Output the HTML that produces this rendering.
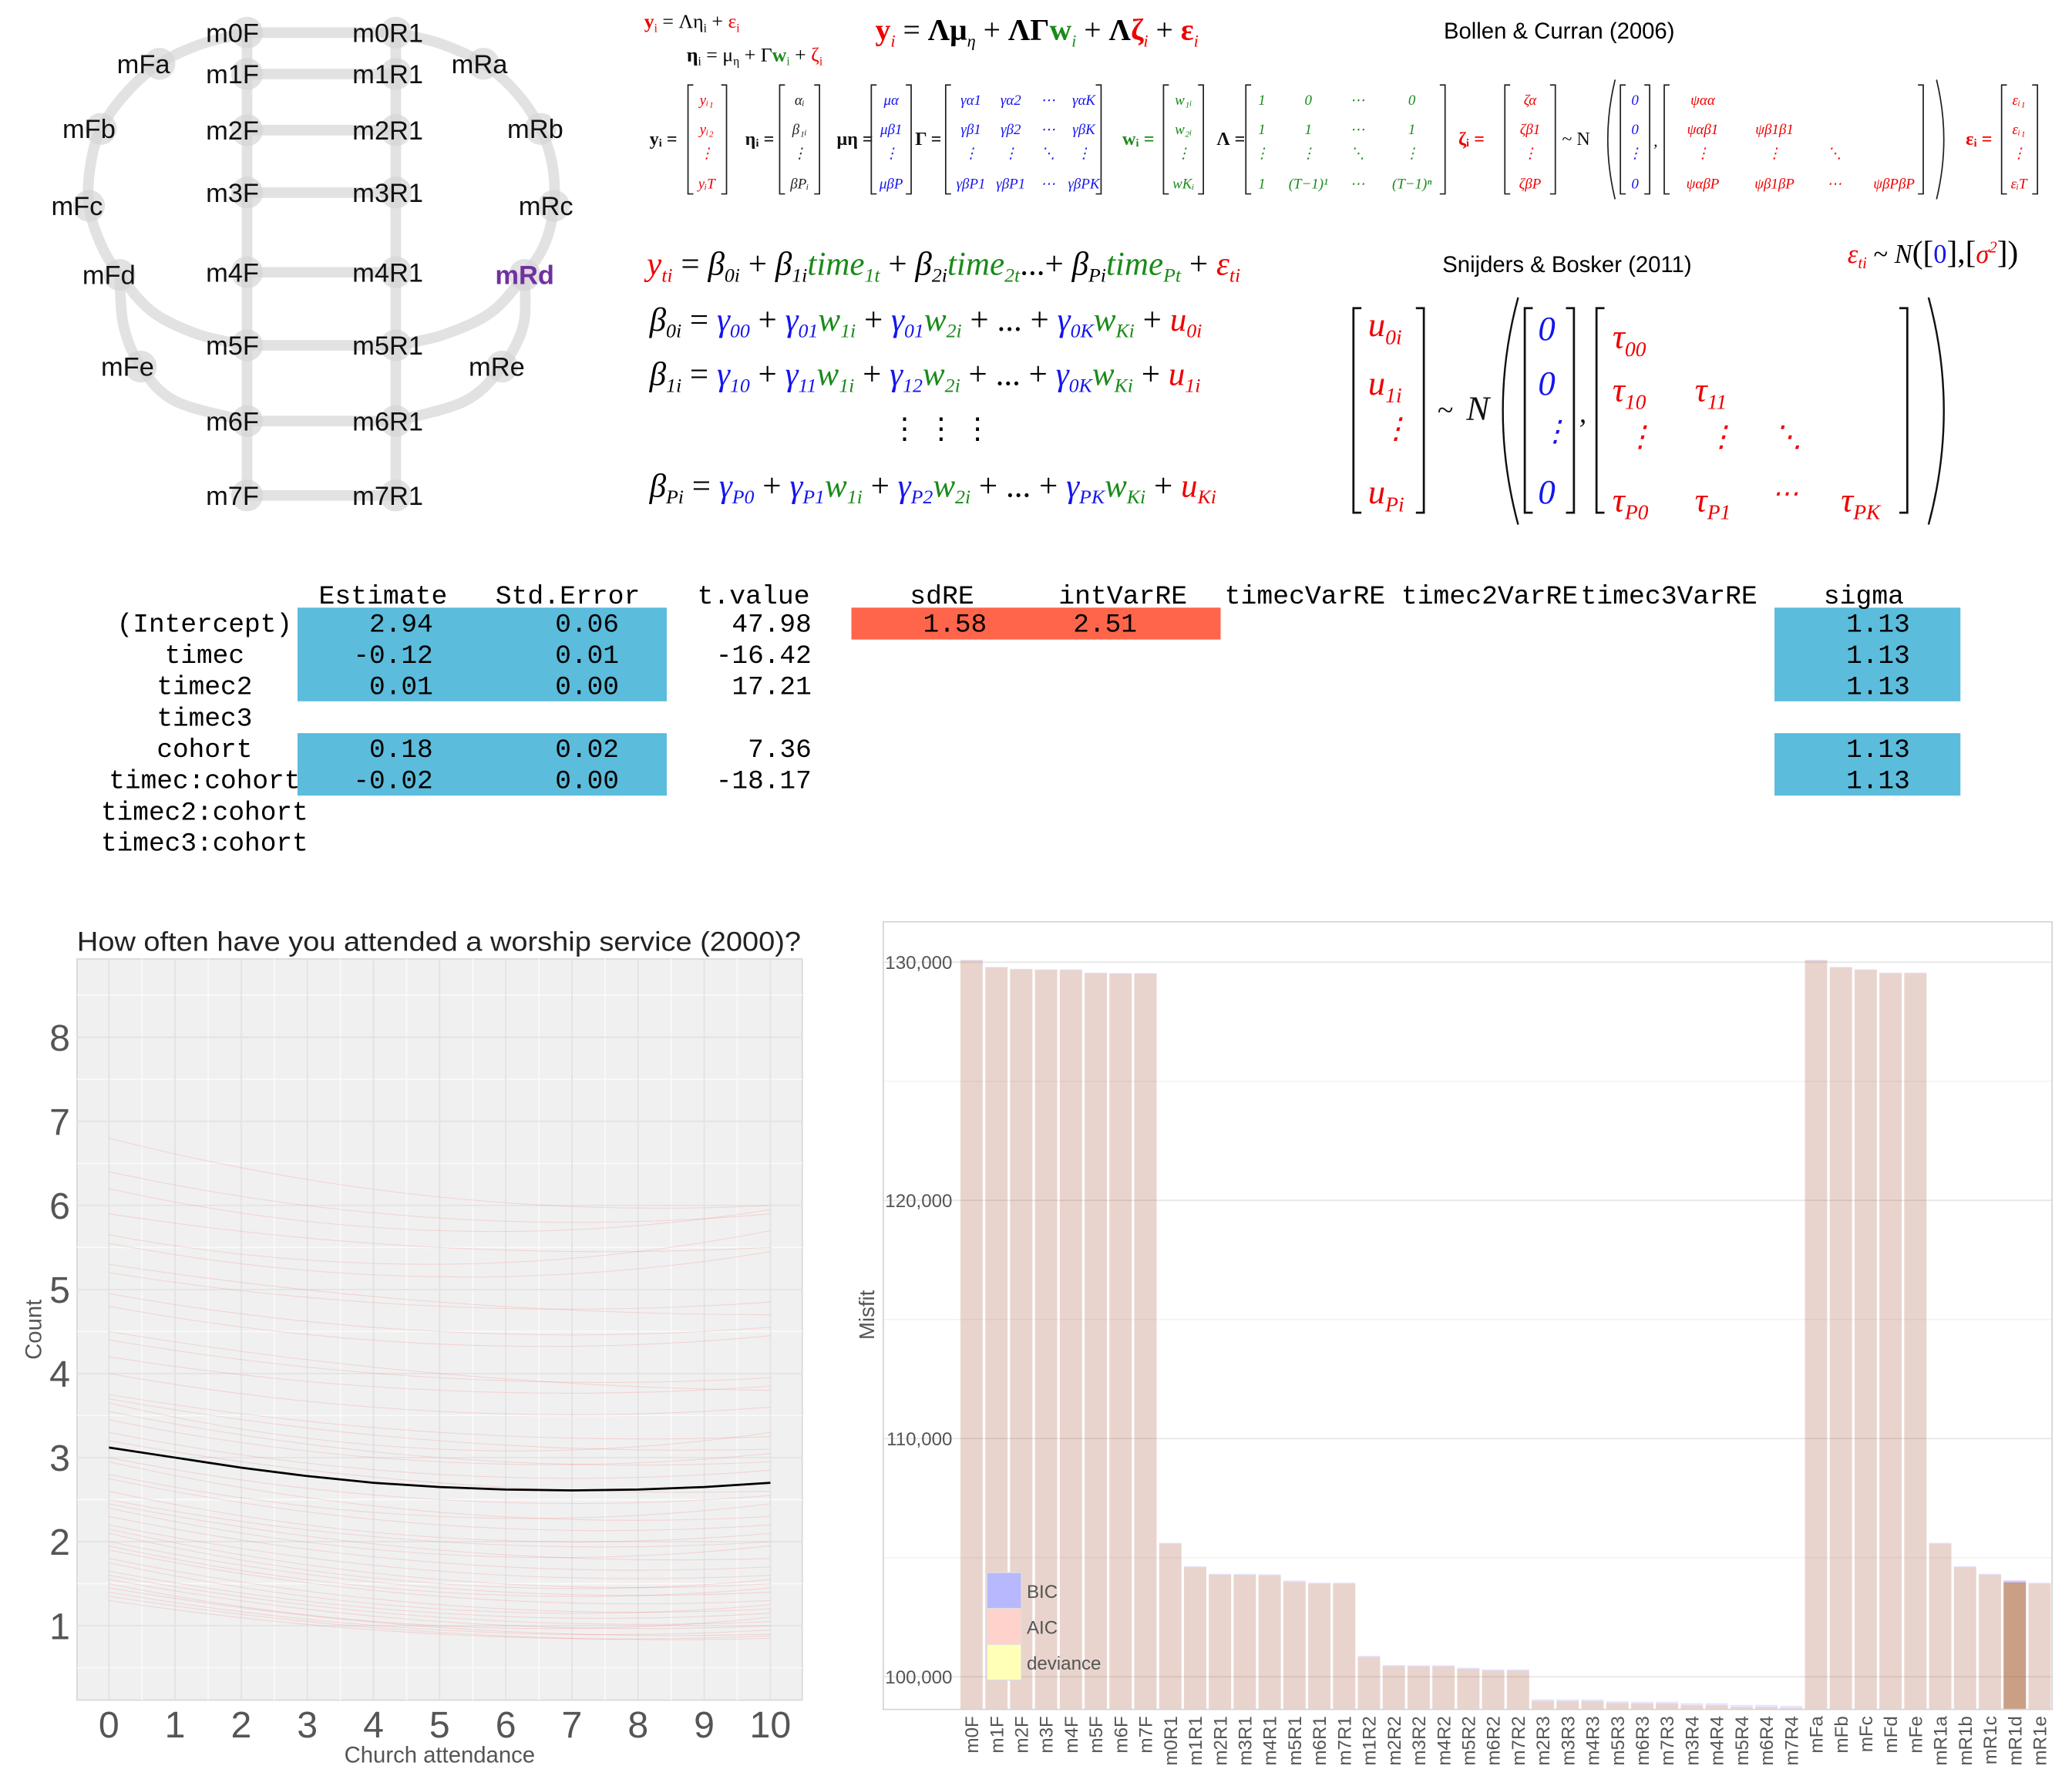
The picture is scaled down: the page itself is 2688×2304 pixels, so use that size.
<!DOCTYPE html>
<html><head><meta charset="utf-8"><style>
html,body{margin:0;padding:0;background:#fff;}
svg{display:block;}
.s{font-family:"Liberation Sans",sans-serif;}
.m{font-family:"Liberation Serif",serif;font-style:italic;}
.mono{font-family:"Liberation Mono",monospace;}
</style></head><body>
<svg id="root" xmlns="http://www.w3.org/2000/svg" width="2688" height="2304" viewBox="0 0 1560 1337.14">
<rect x="0" y="0" width="1560" height="1338" fill="#fff"/>

<g id="diagram"></g>

<g font-family="Liberation Serif, serif">
 <text x="485" y="21" font-size="15"><tspan fill="#e00" font-weight="bold">y</tspan><tspan font-size="9" dy="3" fill="#e00">i</tspan><tspan dy="-3"> = Λη</tspan><tspan font-size="9" dy="3">i</tspan><tspan dy="-3"> + </tspan><tspan fill="#e00">ε</tspan><tspan font-size="9" dy="3" fill="#e00">i</tspan></text>
 <text x="517" y="46" font-size="15"><tspan font-weight="bold">η</tspan><tspan font-size="9" dy="3">i</tspan><tspan dy="-3"> = μ</tspan><tspan font-size="9" dy="3">η</tspan><tspan dy="-3"> + Γ</tspan><tspan fill="#1a8a1a" font-weight="bold">w</tspan><tspan font-size="9" dy="3" fill="#1a8a1a">i</tspan><tspan dy="-3"> + </tspan><tspan fill="#e00">ζ</tspan><tspan font-size="9" dy="3" fill="#e00">i</tspan></text>
 <text x="659" y="30" font-size="23"><tspan fill="#e00" font-weight="bold">y</tspan><tspan font-size="13" dy="5" fill="#e00" font-style="italic">i</tspan><tspan dy="-5"> = </tspan><tspan font-weight="bold">Λμ</tspan><tspan font-size="13" dy="5" font-style="italic">η</tspan><tspan dy="-5"> + </tspan><tspan font-weight="bold">ΛΓ</tspan><tspan fill="#1a8a1a" font-weight="bold">w</tspan><tspan font-size="13" dy="5" fill="#1a8a1a" font-style="italic">i</tspan><tspan dy="-5"> + </tspan><tspan font-weight="bold">Λ</tspan><tspan fill="#e00" font-weight="bold">ζ</tspan><tspan font-size="13" dy="5" fill="#e00" font-style="italic">i</tspan><tspan dy="-5"> + </tspan><tspan fill="#e00" font-weight="bold">ε</tspan><tspan font-size="13" dy="5" fill="#e00" font-style="italic">i</tspan></text>
 <text x="1087" y="29" font-size="17" class="s">Bollen &amp; Curran (2006)</text>
</g>
<g id="matrices" font-family="Liberation Serif, serif" font-style="italic" font-size="11"></g>

<g font-family="Liberation Serif, serif" font-style="italic">
 <text x="487" y="207" font-size="25"><tspan fill="#e00">y</tspan><tspan fill="#e00" font-size="15" dy="5">ti</tspan><tspan dy="-5" font-style="normal"> = </tspan><tspan>β</tspan><tspan font-size="15" dy="5">0i</tspan><tspan dy="-5" font-style="normal"> + </tspan><tspan>β</tspan><tspan font-size="15" dy="5">1i</tspan><tspan dy="-5" fill="#1a8a1a">time</tspan><tspan font-size="15" dy="5" fill="#1a8a1a">1t</tspan><tspan dy="-5" font-style="normal"> + </tspan><tspan>β</tspan><tspan font-size="15" dy="5">2i</tspan><tspan dy="-5" fill="#1a8a1a">time</tspan><tspan font-size="15" dy="5" fill="#1a8a1a">2t</tspan><tspan dy="-5" font-style="normal">...+ </tspan><tspan>β</tspan><tspan font-size="15" dy="5">Pi</tspan><tspan dy="-5" fill="#1a8a1a">time</tspan><tspan font-size="15" dy="5" fill="#1a8a1a">Pt</tspan><tspan dy="-5" font-style="normal"> + </tspan><tspan fill="#e00">ε</tspan><tspan fill="#e00" font-size="15" dy="5">ti</tspan></text>
 <text x="489" y="249" font-size="25"><tspan>β</tspan><tspan font-size="15" dy="5">0i</tspan><tspan dy="-5" font-style="normal"> = </tspan><tspan fill="#1515ee">γ</tspan><tspan fill="#1515ee" font-size="15" dy="5">00</tspan><tspan dy="-5" font-style="normal"> + </tspan><tspan fill="#1515ee">γ</tspan><tspan fill="#1515ee" font-size="15" dy="5">01</tspan><tspan dy="-5" fill="#1a8a1a">w</tspan><tspan fill="#1a8a1a" font-size="15" dy="5">1i</tspan><tspan dy="-5" font-style="normal"> + </tspan><tspan fill="#1515ee">γ</tspan><tspan fill="#1515ee" font-size="15" dy="5">01</tspan><tspan dy="-5" fill="#1a8a1a">w</tspan><tspan fill="#1a8a1a" font-size="15" dy="5">2i</tspan><tspan dy="-5" font-style="normal"> + ... + </tspan><tspan fill="#1515ee">γ</tspan><tspan fill="#1515ee" font-size="15" dy="5">0K</tspan><tspan dy="-5" fill="#1a8a1a">w</tspan><tspan fill="#1a8a1a" font-size="15" dy="5">Ki</tspan><tspan dy="-5" font-style="normal"> + </tspan><tspan fill="#e00">u</tspan><tspan fill="#e00" font-size="15" dy="5">0i</tspan></text>
 <text x="489" y="290" font-size="25"><tspan>β</tspan><tspan font-size="15" dy="5">1i</tspan><tspan dy="-5" font-style="normal"> = </tspan><tspan fill="#1515ee">γ</tspan><tspan fill="#1515ee" font-size="15" dy="5">10</tspan><tspan dy="-5" font-style="normal"> + </tspan><tspan fill="#1515ee">γ</tspan><tspan fill="#1515ee" font-size="15" dy="5">11</tspan><tspan dy="-5" fill="#1a8a1a">w</tspan><tspan fill="#1a8a1a" font-size="15" dy="5">1i</tspan><tspan dy="-5" font-style="normal"> + </tspan><tspan fill="#1515ee">γ</tspan><tspan fill="#1515ee" font-size="15" dy="5">12</tspan><tspan dy="-5" fill="#1a8a1a">w</tspan><tspan fill="#1a8a1a" font-size="15" dy="5">2i</tspan><tspan dy="-5" font-style="normal"> + ... + </tspan><tspan fill="#1515ee">γ</tspan><tspan fill="#1515ee" font-size="15" dy="5">0K</tspan><tspan dy="-5" fill="#1a8a1a">w</tspan><tspan fill="#1a8a1a" font-size="15" dy="5">Ki</tspan><tspan dy="-5" font-style="normal"> + </tspan><tspan fill="#e00">u</tspan><tspan fill="#e00" font-size="15" dy="5">1i</tspan></text>
 <text x="670" y="330" font-size="22" font-style="normal">⋮     ⋮     ⋮</text>
 <text x="489" y="374" font-size="25"><tspan>β</tspan><tspan font-size="15" dy="5">Pi</tspan><tspan dy="-5" font-style="normal"> = </tspan><tspan fill="#1515ee">γ</tspan><tspan fill="#1515ee" font-size="15" dy="5">P0</tspan><tspan dy="-5" font-style="normal"> + </tspan><tspan fill="#1515ee">γ</tspan><tspan fill="#1515ee" font-size="15" dy="5">P1</tspan><tspan dy="-5" fill="#1a8a1a">w</tspan><tspan fill="#1a8a1a" font-size="15" dy="5">1i</tspan><tspan dy="-5" font-style="normal"> + </tspan><tspan fill="#1515ee">γ</tspan><tspan fill="#1515ee" font-size="15" dy="5">P2</tspan><tspan dy="-5" fill="#1a8a1a">w</tspan><tspan fill="#1a8a1a" font-size="15" dy="5">2i</tspan><tspan dy="-5" font-style="normal"> + ... + </tspan><tspan fill="#1515ee">γ</tspan><tspan fill="#1515ee" font-size="15" dy="5">PK</tspan><tspan dy="-5" fill="#1a8a1a">w</tspan><tspan fill="#1a8a1a" font-size="15" dy="5">Ki</tspan><tspan dy="-5" font-style="normal"> + </tspan><tspan fill="#e00">u</tspan><tspan fill="#e00" font-size="15" dy="5">Ki</tspan></text>
 <text x="1086" y="205" font-size="17" font-style="normal" class="s">Snijders &amp; Bosker (2011)</text>
 <text x="1391" y="198" font-size="20"><tspan fill="#e00">ε</tspan><tspan fill="#e00" font-size="12" dy="4">ti</tspan><tspan dy="-4" font-style="normal"> ~ </tspan><tspan>N</tspan><tspan font-style="normal" font-size="24">([</tspan><tspan fill="#1515ee" font-style="normal">0</tspan><tspan font-style="normal" font-size="24">],[</tspan><tspan fill="#e00">σ</tspan><tspan fill="#e00" font-size="12" dy="-8">2</tspan><tspan dy="8" font-style="normal" font-size="24">])</tspan></text>
</g>
<g id="bigmatrix" font-family="Liberation Serif, serif" font-style="italic"></g>

<g id="table" class="mono" font-size="20"></g>

<g id="linechart"></g>

<g id="barchart"></g>
</svg>

<script>
// ---------- line chart data ----------
const lineX = [0,1,2,3,4,5,6,7,8,9,10];
const meanCurve = [3.12,3.0,2.88,2.78,2.70,2.65,2.62,2.61,2.62,2.65,2.70];
const indivStart = [6.8,6.4,6.2,5.9,5.65,5.55,5.3,5.2,4.95,4.8,4.5,4.4,4.2,4.0,3.75,3.7,3.65,3.55,3.45,3.3,3.2,3.0,2.95,2.8,2.75,2.6,2.5,2.45,2.4,2.3,2.2,2.15,2.1,2.0,1.95,1.9,1.8,1.75,1.65,1.6,1.55,1.5,1.45,1.4,1.35,1.3];
const indivMid = [6.1,5.85,5.7,5.5,5.3,5.15,4.85,4.8,4.5,4.35,4.0,3.95,3.8,3.55,3.3,3.2,3.1,3.0,2.95,2.8,2.7,2.5,2.35,2.3,2.2,2.05,2.0,1.9,1.85,1.75,1.65,1.55,1.5,1.45,1.4,1.35,1.25,1.2,1.15,1.1,1.05,1.0,0.98,0.95,0.92,0.9];
const indivEnd = [6.0,5.9,5.95,5.5,5.7,5.45,4.7,4.85,4.55,4.45,3.8,3.95,3.85,3.6,3.25,3.1,3.3,2.95,3.05,2.85,2.6,2.55,2.3,2.45,2.2,2.1,2.0,1.8,1.95,1.7,1.6,1.5,1.55,1.4,1.45,1.3,1.2,1.25,1.15,1.05,1.0,1.1,0.9,0.95,0.85,0.88];
const yTicksL = [1,2,3,4,5,6,7,8];
const xTicksL = [0,1,2,3,4,5,6,7,8,9,10];

// ---------- bar chart data ----------
const models = ["m0F","m1F","m2F","m3F","m4F","m5F","m6F","m7F","m0R1","m1R1","m2R1","m3R1","m4R1","m5R1","m6R1","m7R1","m1R2","m2R2","m3R2","m4R2","m5R2","m6R2","m7R2","m2R3","m3R3","m4R3","m5R3","m6R3","m7R3","m3R4","m4R4","m5R4","m6R4","m7R4","mFa","mFb","mFc","mFd","mFe","mR1a","mR1b","mR1c","mR1d","mR1e"];
const bicValues = [130100,129800,129720,129700,129700,129560,129540,129540,105620,104640,104320,104320,104300,104040,103950,103950,100880,100490,100480,100480,100380,100310,100310,99050,99050,99050,98970,98950,98950,98890,98890,98820,98820,98780,130100,129800,129700,129560,129560,105620,104640,104320,104040,103950];
const aicValues = [130080,129780,129700,129680,129670,129540,129520,129520,105590,104600,104290,104280,104260,103980,103910,103910,100830,100450,100440,100440,100330,100260,100260,98980,98970,98970,98890,98870,98870,98800,98800,98720,98720,98680,130080,129780,129680,129540,129540,105590,104600,104290,103960,103910];
const devianceValues = [130060,129760,129680,129660,129650,129520,129500,129500,105570,104580,104270,104260,104240,103960,103890,103890,100810,100430,100420,100420,100310,100240,100240,98960,98950,98950,98870,98850,98850,98780,98780,98700,98700,98660,130060,129760,129660,129520,129520,105570,104580,104270,103940,103890];
const yTicksB = [100000,110000,120000,130000];
const yTickLabelsB = ["100,000","110,000","120,000","130,000"];
const legendKeys = ["BIC","AIC","deviance"];

// ---------- table data ----------
const rowNames = ["(Intercept)","timec","timec2","timec3","cohort","timec:cohort","timec2:cohort","timec3:cohort"];
const estimates = ["2.94","-0.12","0.01","","0.18","-0.02","",""];
const stdErrors = ["0.06","0.01","0.00","","0.02","0.00","",""];
const tValues = ["47.98","-16.42","17.21","","7.36","-18.17","",""];
const sdRE = ["1.58","","","","","","",""];
const intVarRE = ["2.51","","","","","","",""];
const sigmaVals = ["1.13","1.13","1.13","","1.13","1.13","",""];

const NS = "http://www.w3.org/2000/svg";
function mk(parent, tag, attrs, text){
  const e = document.createElementNS(NS, tag);
  for (const k in attrs) e.setAttribute(k, attrs[k]);
  if (text !== undefined) e.textContent = text;
  parent.appendChild(e);
  return e;
}

// ================= DIAGRAM =================
(function(){
  const g = document.getElementById('diagram');
  const lx = 186, rx = 298;
  const rows = [24.6,55.7,98,145,205,260,317,373];
  const st = {fill:'none', stroke:'#e2e2e2', 'stroke-width':8, 'stroke-linecap':'round', 'stroke-linejoin':'round'};
  function cr(pts){
    let d = 'M'+pts[0][0]+','+pts[0][1];
    for (let i=0;i<pts.length-1;i++){
      const p0=pts[Math.max(0,i-1)], p1=pts[i], p2=pts[i+1], p3=pts[Math.min(pts.length-1,i+2)];
      const c1=[p1[0]+(p2[0]-p0[0])/6, p1[1]+(p2[1]-p0[1])/6];
      const c2=[p2[0]-(p3[0]-p1[0])/6, p2[1]-(p3[1]-p1[1])/6];
      d+=' C'+c1[0]+','+c1[1]+' '+c2[0]+','+c2[1]+' '+p2[0]+','+p2[1];
    }
    return d;
  }
  const F = {a:[120,48],b:[76,97],c:[67,155],d:[90,207],e:[106,276]};
  const R = {a:[364,48],b:[407,97],c:[417,155],d:[395,207],e:[378,276]};
  let p;
  p = mk(g,'path',Object.assign({d:cr([[lx,rows[0]],[152,33],F.a,[95,70],F.b,[68,125],F.c,[76,184],F.d,[115,235],[150,252],[lx,rows[5]]])},st));
  
  
  p = mk(g,'path',Object.assign({d:cr([F.d,[93,245],F.e,[132,302],[lx,rows[6]]])},st));
  
  
  p = mk(g,'path',Object.assign({d:cr([[rx,rows[0]],[332,33],R.a,[389,70],R.b,[416,125],R.c,[410,184],R.d,[370,235],[334,252],[rx,rows[5]]])},st));
  
  
  p = mk(g,'path',Object.assign({d:cr([R.d,[394,245],R.e,[350,302],[rx,rows[6]]])},st));
  
  
  p = mk(g,'line',Object.assign({x1:lx,y1:rows[0],x2:lx,y2:rows[7]},st));
  
  
  p = mk(g,'line',Object.assign({x1:rx,y1:rows[0],x2:rx,y2:rows[7]},st));
  
  
  rows.forEach((y)=>{
    const l = mk(g,'line',Object.assign({x1:lx,y1:y,x2:rx,y2:y},st));
    
    
  });
  const nodes = [];
  rows.forEach((y,i)=>{ nodes.push([lx,y,'m'+i+'F',175]); nodes.push([rx,y,'m'+i+'R1',292]); });
  nodes.push([F.a[0],F.a[1],'mFa',108],[F.b[0],F.b[1],'mFb',67],[F.c[0],F.c[1],'mFc',58],[F.d[0],F.d[1],'mFd',82],[F.e[0],F.e[1],'mFe',96]);
  nodes.push([R.a[0],R.a[1],'mRa',361],[R.b[0],R.b[1],'mRb',403],[R.c[0],R.c[1],'mRc',411],[R.d[0],R.d[1],'mRd',395],[R.e[0],R.e[1],'mRe',374]);
  nodes.forEach(n=>{
    const c = mk(g,'circle',{cx:n[0],cy:n[1],r:12,fill:'#d6d6d6','fill-opacity':0.7});
    
    
  });
  nodes.forEach(n=>{
    const hl = n[2]==='mRd';
    const t = mk(g,'text',{x:n[3],y:n[1]+7,'text-anchor':'middle','font-size':20,'font-family':'Liberation Sans, sans-serif',fill:hl?'#7030a0':'#111','font-weight':hl?'bold':'normal'},n[2]);
    
    
  });
})();

// ================= MATRICES =================
(function(){
  const g = document.getElementById('matrices');
  const top=64, bot=146, rowsY=[79,101,119,142];
  const red='#e00', blue='#1515ee', green='#1a8a1a';
  function br(x1,x2,t,b){
    const d='M'+(x1+4)+','+t+' H'+x1+' V'+b+' H'+(x1+4)+' M'+(x2-4)+','+t+' H'+x2+' V'+b+' H'+(x2-4);
    const p=mk(g,'path',{d:d,fill:'none',stroke:'#222','stroke-width':1});
    
    
  }
  function col(x,entries,color){
    entries.forEach((e,i)=>{
      const t=mk(g,'text',{x:x,y:rowsY[i],fill:color,'text-anchor':'middle'},e);
      
      
    });
  }
  function lab(x,s,color,bold){
    const t=mk(g,'text',{x:x,y:109,fill:color||'#111','font-size':14,'font-style':'normal','font-weight':bold?'bold':'normal'},s);
    
    
  }
  lab(489,'yᵢ =','#111',true); br(518,547,top,bot); col(532,['yᵢ₁','yᵢ₂','⋮','yᵢT'],red);
  lab(561,'ηᵢ =','#111',true); br(587,617,top,bot); col(602,['αᵢ','β₁ᵢ','⋮','βPᵢ'],'#222');
  lab(630,'μη =','#111',true); br(656,686,top,bot); col(671,['μα','μβ1','⋮','μβP'],blue);
  lab(689,'Γ =','#111',true); br(712,829,top,bot);
  col(731,['γα1','γβ1','⋮','γβP1'],blue); col(761,['γα2','γβ2','⋮','γβP1'],blue); col(789,['⋯','⋯','⋱','⋯'],blue); col(816,['γαK','γβK','⋮','γβPK'],blue);
  lab(845,'wᵢ =',green,true); br(876,906,top,bot); col(891,['w₁ᵢ','w₂ᵢ','⋮','wKᵢ'],green);
  lab(916,'Λ =','#111',true); br(938,1088,top,bot);
  col(950,['1','1','⋮','1'],green); col(985,['0','1','⋮','(T−1)¹'],green); col(1022,['⋯','⋯','⋱','⋯'],green); col(1063,['0','1','⋮','(T−1)ⁿ'],green);
  lab(1098,'ζᵢ =',red,true); br(1133,1171,top,bot); col(1152,['ζα','ζβ1','⋮','ζβP'],red);
  lab(1176,'~ N','#111',false);
  let p=mk(g,'path',{d:'M1216,60 Q1205,105 1216,150 M1458,60 Q1469,105 1458,150',fill:'none',stroke:'#222','stroke-width':1});
  
  
  br(1220,1242,top,bot); col(1231,['0','0','⋮','0'],blue);
  mk(g,'text',{x:1245,y:110,'font-size':12},',');
  br(1253,1448,top,bot);
  col(1282,['ψαα','ψαβ1','⋮','ψαβP'],red); col(1336,['','ψβ1β1','⋮','ψβ1βP'],red); col(1381,['','','⋱','⋯'],red); col(1426,['','','','ψβPβP'],red);
  lab(1480,'εᵢ =',red,true); br(1507,1534,top,bot); col(1520,['εᵢ₁','εᵢ₁','⋮','εᵢT'],red);
})();

// ================= BIG MATRIX =================
(function(){
  const g = document.getElementById('bigmatrix');
  function br(x1,x2,t,b){
    const p=mk(g,'path',{d:'M'+(x1+6)+','+t+' H'+x1+' V'+b+' H'+(x1+6)+' M'+(x2-6)+','+t+' H'+x2+' V'+b+' H'+(x2-6),fill:'none',stroke:'#111','stroke-width':1.6});
    
    
  }
  function t(x,y,s,c,fs,sub){
    const e=mk(g,'text',{x:x,y:y,fill:c,'font-size':fs||26});
    mk(e,'tspan',{},s);
    if(sub){ mk(e,'tspan',{'font-size':16,dy:6},sub); }
    
    
  }
  br(1019,1072,232,386);
  t(1030,253,'u','#e00',26,'0i'); t(1030,297,'u','#e00',26,'1i'); t(1040,330,'⋮','#e00',22); t(1030,379,'u','#e00',26,'Pi');
  t(1082,316,'~','#111',22); t(1104,316,'N','#111',26);
  let p=mk(g,'path',{d:'M1143,224 Q1120,309 1143,395 M1452,224 Q1475,309 1452,395',fill:'none',stroke:'#111','stroke-width':1.4});
  
  
  br(1148,1185,232,386);
  t(1158,256,'0','#1515ee',26); t(1158,297,'0','#1515ee',26); t(1160,332,'⋮','#1515ee',22); t(1158,379,'0','#1515ee',26);
  t(1189,318,',','#111',22);
  br(1202,1436,232,386);
  t(1214,262,'τ','#e00',26,'00'); t(1214,302,'τ','#e00',26,'10'); t(1276,302,'τ','#e00',26,'11');
  t(1224,336,'⋮','#e00',22); t(1285,336,'⋮','#e00',22); t(1335,336,'⋱','#e00',22);
  t(1214,385,'τ','#e00',26,'P0'); t(1276,385,'τ','#e00',26,'P1'); t(1334,378,'⋯','#e00',20); t(1386,385,'τ','#e00',26,'PK');
})();

// ================= TABLE =================
(function(){
  const g = document.getElementById('table');
  const rowY = [469,492.5,516,540,563.4,587,610.6,634];
  const boxes = [[224,457.5,278,70.5,'#5bbcdc'],[224,552,278,47,'#5bbcdc'],[1336,457.5,140,70.5,'#5bbcdc'],[1336,552,140,47,'#5bbcdc'],[641,457.5,278,24,'#ff654a']];
  boxes.forEach(b=>{
    const r=mk(g,'rect',{x:b[0],y:b[1],width:b[2],height:b[3],fill:b[4]});
    
    
  });
  const headers=[["Estimate",240],["Std.Error",373],["t.value",525],["sdRE",685],["intVarRE",797],["timecVarRE",922],["timec2VarRE",1055],["timec3VarRE",1190],["sigma",1373]];
  headers.forEach(h=>{
    const t=mk(g,'text',{x:h[1],y:454.5,textLength:(h[0].length*12.1),lengthAdjust:'spacingAndGlyphs'},h[0]);
    
    
  });
  const cols=[[estimates,326],[stdErrors,466],[tValues,611],[sdRE,743],[intVarRE,856],[sigmaVals,1438]];
  rowNames.forEach((n,i)=>{
    const t=mk(g,'text',{x:154,y:rowY[i]+6.5,'text-anchor':'middle'},n);
    
    
    cols.forEach(c=>{
      if(c[0][i]){
        const v=mk(g,'text',{x:c[1],y:rowY[i]+6.5,'text-anchor':'end'},c[0][i]);
        
        
      }
    });
  });
})();

// ================= LINE CHART =================
(function(){
  const g = document.getElementById('linechart');
  const L=58,R=604,T=722,B=1280;
  const xs=v=>82+v*49.8, ys=v=>1224-(v-1)*63.29;
  let e=mk(g,'rect',{x:L,y:T,width:R-L,height:B-T,fill:'#f0f0f0',stroke:'#d8d8d8','stroke-width':1});
  
  
  for(let v=0.5; v<=8.5; v+=1){ const l=mk(g,'line',{x1:L,x2:R,y1:ys(v),y2:ys(v),stroke:'#fafafa','stroke-width':1});   }
  for(let v=0.5; v<=10; v+=1){ const l=mk(g,'line',{y1:T,y2:B,x1:xs(v),x2:xs(v),stroke:'#fafafa','stroke-width':1});   }
  yTicksL.forEach(v=>{ const l=mk(g,'line',{x1:L,x2:R,y1:ys(v),y2:ys(v),stroke:'#e2e2e2','stroke-width':1});   });
  xTicksL.forEach(v=>{ const l=mk(g,'line',{y1:T,y2:B,x1:xs(v),x2:xs(v),stroke:'#e2e2e2','stroke-width':1});   });
  indivStart.forEach((s,i)=>{
    const m=indivMid[i], en=indivEnd[i];
    const cy = 2*ys(m) - (ys(s)+ys(en))/2;
    const p=mk(g,'path',{d:'M'+xs(0)+','+ys(s)+' Q'+xs(5)+','+cy+' '+xs(10)+','+ys(en),fill:'none',stroke:'#ff4040','stroke-opacity':0.17,'stroke-width':0.6});
    
    
  });
  const mp=mk(g,'polyline',{points:lineX.map((x,i)=>xs(x)+','+ys(meanCurve[i])).join(' '),fill:'none',stroke:'#000','stroke-width':1.6});
  
  
  yTicksL.forEach(v=>{ const t=mk(g,'text',{x:45,y:ys(v)+10,'text-anchor':'middle','font-size':28,fill:'#555','font-family':'Liberation Sans, sans-serif'},String(v));   });
  xTicksL.forEach(v=>{ const t=mk(g,'text',{x:xs(v),y:1308,'text-anchor':'middle','font-size':28,fill:'#555','font-family':'Liberation Sans, sans-serif'},String(v));   });
  e=mk(g,'text',{x:331,y:1327,'text-anchor':'middle','font-size':17,fill:'#555','font-family':'Liberation Sans, sans-serif'},'Church attendance');
   
  e=mk(g,'text',{x:0,y:0,'text-anchor':'middle','font-size':17,fill:'#555','font-family':'Liberation Sans, sans-serif',transform:'translate(31,1001) rotate(-90)'},'Count');
   
  e=mk(g,'text',{x:58,y:716,'font-size':20.5,fill:'#222','font-family':'Liberation Sans, sans-serif',textLength:545,lengthAdjust:'spacingAndGlyphs'},'How often have you attended a worship service (2000)?');
   
})();

// ================= BAR CHART =================
(function(){
  const g = document.getElementById('barchart');
  const L=665,R=1545,T=694,B=1287;
  const ys=v=>1262.4-(v-100000)*0.017933;
  const xs=i=>731.5+i*18.7;
  const bw=16.8;
  for(let v=105000; v<=125000; v+=10000){ const l=mk(g,'line',{x1:L,x2:R,y1:ys(v),y2:ys(v),stroke:'#f3f3f3','stroke-width':1});   }
  yTicksB.forEach(v=>{ const l=mk(g,'line',{x1:L,x2:R,y1:ys(v),y2:ys(v),stroke:'#e6e6e6','stroke-width':1});   });
  const series=[[bicValues,'#0000ff','bic'],[aicValues,'#ff2000','aic'],[devianceValues,'#ffff00','deviance']];
  models.forEach((m,i)=>{
    const hl = m==='mR1d';
    series.forEach(s=>{
      const top=ys(s[0][i]);
      const r=mk(g,'rect',{x:xs(i)-bw/2,y:top,width:bw,height:B-top,fill:s[1],'fill-opacity':hl?0.2:0.1});
      
      
    });
    if(hl){
      const r=mk(g,'rect',{x:xs(i)-bw/2,y:ys(aicValues[i]),width:bw,height:B-ys(aicValues[i]),fill:'#8a5030','fill-opacity':0.25});
      
      
    }
    const t=mk(g,'text',{x:0,y:0,'text-anchor':'end','font-size':14,fill:'#555','font-family':'Liberation Sans, sans-serif',transform:'translate('+(xs(i)+5)+','+(B+5)+') rotate(-90)'},m);
    
    
  });
  let e=mk(g,'rect',{x:L,y:T,width:R-L,height:B-T,fill:'none',stroke:'#d4d4d4','stroke-width':1});
  
  
  yTicksB.forEach((v,i)=>{ const t=mk(g,'text',{x:717,y:ys(v)+5,'text-anchor':'end','font-size':14,fill:'#555','font-family':'Liberation Sans, sans-serif'},yTickLabelsB[i]);   });
  e=mk(g,'text',{x:0,y:0,'text-anchor':'middle','font-size':16,fill:'#555','font-family':'Liberation Sans, sans-serif',transform:'translate(658,990) rotate(-90)'},'Misfit');
   
  const legCols=['#b8b8ff','#ffd3cc','#ffffb8'];
  legendKeys.forEach((k,i)=>{
    const y=1184+i*27;
    const r=mk(g,'rect',{x:743,y:y,width:26,height:27,fill:legCols[i],stroke:'#ddd','stroke-width':0.8});
    
    
    const t=mk(g,'text',{x:773,y:y+19,'font-size':14,fill:'#555','font-family':'Liberation Sans, sans-serif'},k);
    
    
  });
})();
</script>
</body></html>
